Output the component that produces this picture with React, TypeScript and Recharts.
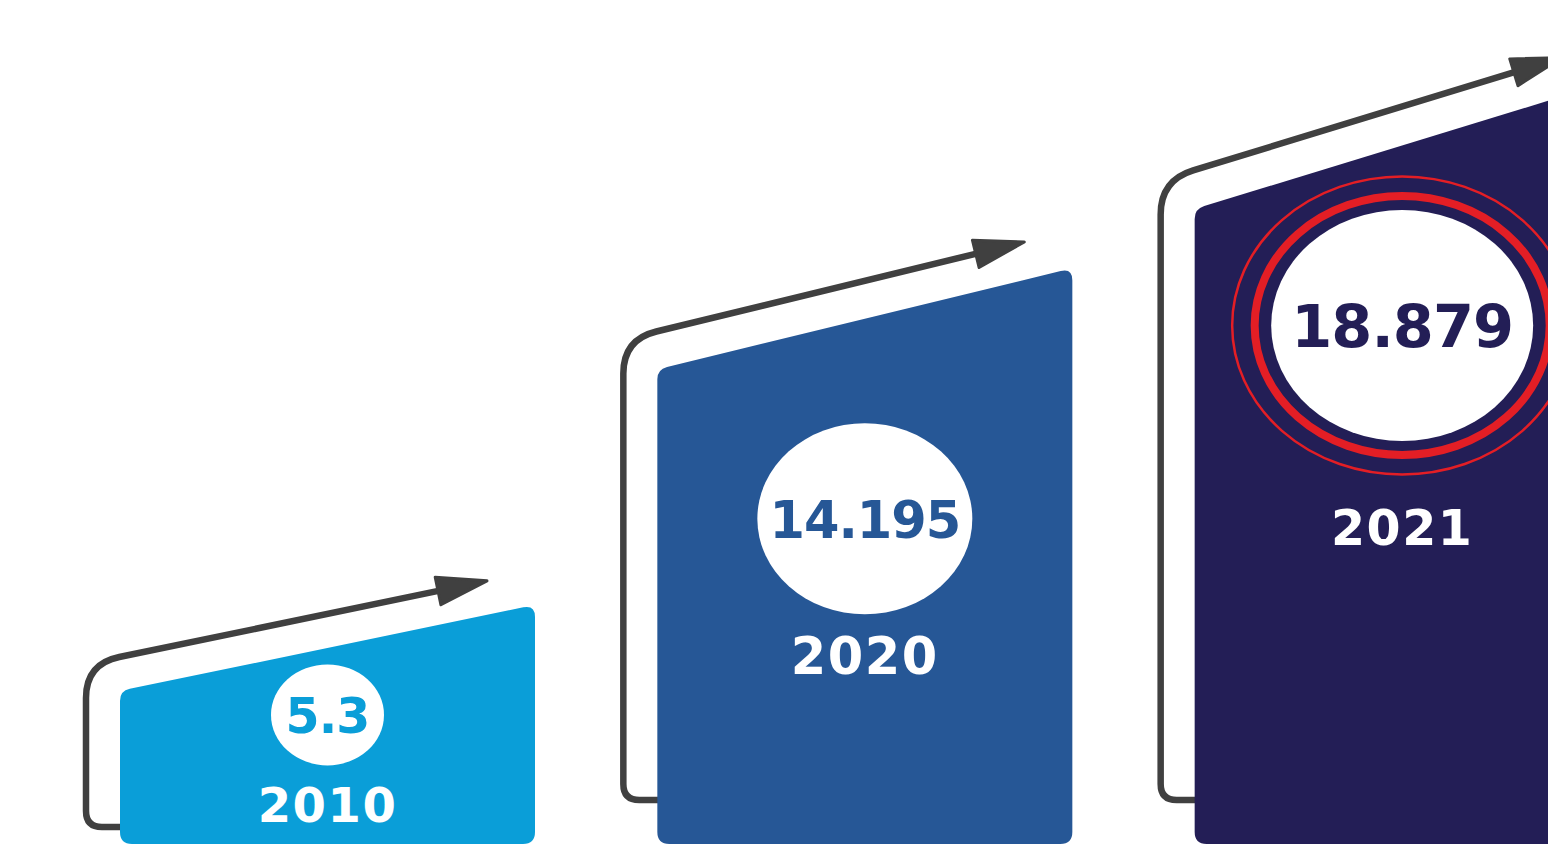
import React from "react";
import { BarChart, Bar, XAxis, YAxis } from "recharts";

const YEARS = ["2010", "2020", "2021"];
const VALUES = [5.3, 14.195, 18.879];

const data = YEARS.map((year, i) => ({ year, value: VALUES[i] }));

// per-bar look (styles only, the heights come from the y scale)
const LOOK = [
  { fill: "#0A9ED8", slant: 86, gap: 34, ellipseDy: 67, rx: 56.5, ry: 50.5, valueSize: 49, yearDy: 107.5, yearSize: 48, rings: false },
  { fill: "#265796", slant: 101, gap: 38, ellipseDy: 200, rx: 107.5, ry: 95.5, valueSize: 51, yearDy: 155.5, yearSize: 51, rings: false },
  { fill: "#231E56", slant: 127, gap: 39, ellipseDy: 180, rx: 131, ry: 115.5, valueSize: 59, yearDy: 219.5, yearSize: 49, rings: true },
];

const ARROW = "#404040";
const RED = "#E31E25";
const FONT = "'DejaVu Sans', sans-serif";

type Pt = [number, number];

const unit = (a: Pt, b: Pt): Pt => {
  const dx = b[0] - a[0];
  const dy = b[1] - a[1];
  const l = Math.hypot(dx, dy) || 1;
  return [dx / l, dy / l];
};

// polygon / polyline with rounded corners
const roundPath = (pts: Pt[], radii: number[], closed: boolean) => {
  const n = pts.length;
  const corner = (i: number) => {
    const p = pts[i];
    const prev = pts[(i - 1 + n) % n];
    const next = pts[(i + 1) % n];
    const r = Math.min(
      radii[i],
      Math.hypot(prev[0] - p[0], prev[1] - p[1]) / 2,
      Math.hypot(next[0] - p[0], next[1] - p[1]) / 2
    );
    const u1 = unit(p, prev);
    const u2 = unit(p, next);
    return {
      a: [p[0] + u1[0] * r, p[1] + u1[1] * r] as Pt,
      b: [p[0] + u2[0] * r, p[1] + u2[1] * r] as Pt,
      p,
    };
  };
  let d = "";
  if (closed) {
    for (let i = 0; i < n; i++) {
      const c = corner(i);
      d += `${i === 0 ? "M" : "L"}${c.a[0]},${c.a[1]} Q${c.p[0]},${c.p[1]} ${c.b[0]},${c.b[1]} `;
    }
    d += "Z";
  } else {
    d = `M${pts[0][0]},${pts[0][1]} `;
    for (let i = 1; i < n - 1; i++) {
      const c = corner(i);
      d += `L${c.a[0]},${c.a[1]} Q${c.p[0]},${c.p[1]} ${c.b[0]},${c.b[1]} `;
    }
    d += `L${pts[n - 1][0]},${pts[n - 1][1]}`;
  }
  return d;
};

const BookBar = (props: any) => {
  const { x, y, width, height, payload } = props;
  const index = props.index ?? YEARS.indexOf(payload.year);
  const look = LOOK[index];
  const bottom = y + height;
  const s = look.slant;
  const m = -s / width;
  const leftTop = y + s / 2;
  const rightTop = y - s / 2;
  const topAt = (px: number) => leftTop + m * (px - x);

  const barD = roundPath(
    [
      [x, leftTop],
      [x + width, rightTop],
      [x + width, bottom],
      [x, bottom],
    ],
    [10, 12, 12, 12],
    true
  );

  // arrow running round the bar
  const xv = x - 34;
  const lineY = (px: number) => topAt(px) - look.gap;
  const lineBottom = Math.max(800, leftTop + 136);
  const tipX = x + width - 48;
  const tip: Pt = [tipX, lineY(tipX)];
  const dir = unit([0, 0], [1, m]);
  const nrm: Pt = [-dir[1], dir[0]];
  const headLen = 50;
  const halfW = 14;
  const baseC: Pt = [tip[0] - dir[0] * headLen, tip[1] - dir[1] * headLen];
  const shaftEnd: Pt = [baseC[0] + dir[0] * 4, baseC[1] + dir[1] * 4];
  const arrowD = roundPath(
    [
      [x + 6, lineBottom],
      [xv, lineBottom],
      [xv, lineY(xv)],
      shaftEnd,
    ],
    [0, 16, 34, 0],
    false
  );
  const head = [
    tip,
    [baseC[0] + nrm[0] * halfW, baseC[1] + nrm[1] * halfW],
    [baseC[0] - nrm[0] * halfW, baseC[1] - nrm[1] * halfW],
  ]
    .map((p) => p.join(","))
    .join(" ");

  const cx = x + width / 2;
  const cy = y + look.ellipseDy;

  return (
    <g>
      <path d={arrowD} fill="none" stroke={ARROW} strokeWidth={6.5} strokeLinejoin="round" />
      <polygon points={head} fill={ARROW} stroke={ARROW} strokeWidth={3} strokeLinejoin="round" />
      <path d={barD} fill={look.fill} />
      {look.rings && (
        <>
          <ellipse cx={cx} cy={cy} rx={170} ry={149} fill="none" stroke={RED} strokeWidth={2.5} />
          <ellipse cx={cx} cy={cy} rx={147.5} ry={129.5} fill="none" stroke={RED} strokeWidth={8} />
        </>
      )}
      <ellipse cx={cx} cy={cy} rx={look.rx} ry={look.ry} fill="#ffffff" />
      <text
        x={cx}
        y={cy + look.valueSize * 0.37}
        textAnchor="middle"
        fill={look.fill}
        fontFamily={FONT}
        fontWeight={700}
        fontSize={look.valueSize}
        letterSpacing={-1}
      >
        {String(payload.value)}
      </text>
      <text
        x={cx}
        y={cy + look.yearDy}
        textAnchor="middle"
        fill="#ffffff"
        fontFamily={FONT}
        fontWeight={700}
        fontSize={look.yearSize}
        letterSpacing={1.5}
      >
        {payload.year}
      </text>
    </g>
  );
};

export default function App() {
  return (
    <div
      style={{
        position: "absolute",
        left: 0,
        top: 0,
        width: 1548,
        height: 845,
        overflow: "hidden",
        background: "#ffffff",
      }}
    >
      <BarChart
        width={1700}
        height={845}
        data={data}
        margin={{ top: 104, right: 29, bottom: 1, left: 59 }}
      >
        <XAxis dataKey="year" hide />
        <YAxis hide domain={[0, 20]} />
        <Bar
          dataKey="value"
          barSize={415}
          isAnimationActive={false}
          shape={(p: any) => <BookBar {...p} />}
        />
      </BarChart>
    </div>
  );
}
